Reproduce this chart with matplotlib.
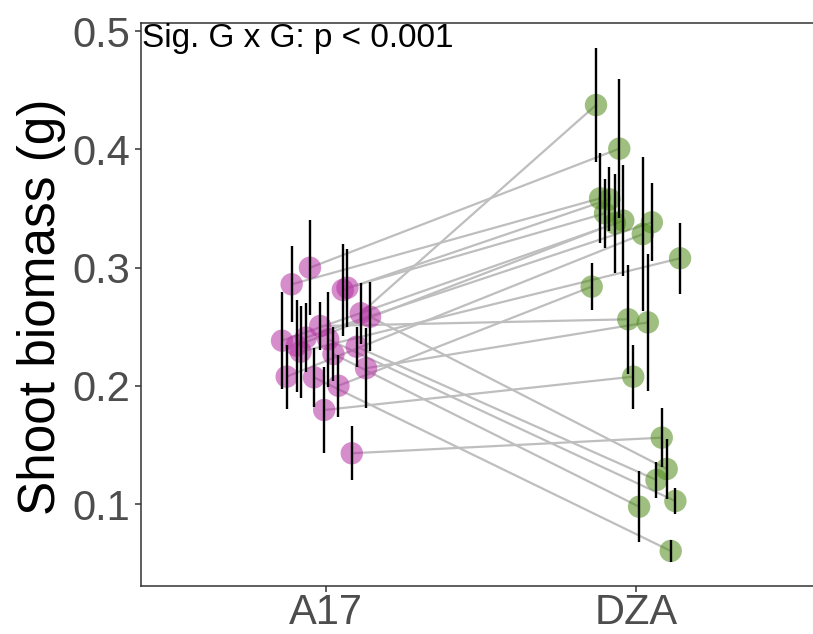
import matplotlib
matplotlib.use("Agg")
import matplotlib.pyplot as plt
import numpy as np

plt.rcParams['font.family'] = ['Liberation Sans', 'DejaVu Sans']

categories = ["A17", "DZA"]
# per genotype values (paired lines A17 -> DZA)
a17_mean = [0.2998, 0.2858, 0.2613, 0.2810, 0.2829, 0.2505, 0.2148, 0.1795, 0.1429, 0.2381,
            0.2407, 0.2339, 0.2288, 0.2077, 0.2000, 0.2584, 0.2330, 0.2393, 0.2268, 0.2071]
a17_se = [0.040, 0.032, 0.026, 0.039, 0.033, 0.020, 0.034, 0.036, 0.023, 0.041,
          0.029, 0.039, 0.039, 0.027, 0.026, 0.029, 0.017, 0.040, 0.023, 0.025]
a17_jit = [-0.052, -0.111, 0.112, 0.054, 0.069, -0.019, 0.129, -0.006, 0.083, -0.142,
           -0.065, -0.095, -0.082, -0.127, 0.040, 0.142, 0.099, 0.007, 0.024, -0.039]
dza_mean = [0.4005, 0.3585, 0.4374, 0.3577, 0.3458, 0.2562, 0.2536, 0.2077, 0.1561, 0.3396,
            0.3382, 0.3374, 0.3078, 0.3283, 0.2838, 0.1296, 0.1203, 0.1025, 0.0977, 0.0603]
dza_se = [0.059, 0.038, 0.048, 0.027, 0.029, 0.046, 0.058, 0.027, 0.025, 0.047,
          0.033, 0.042, 0.030, 0.065, 0.020, 0.025, 0.015, 0.011, 0.030, 0.009]
dza_jit = [-0.054, -0.116, -0.129, -0.086, -0.100, -0.025, 0.038, -0.009, 0.083, -0.041,
           0.051, -0.068, 0.142, 0.022, -0.143, 0.099, 0.066, 0.127, 0.010, 0.112]
yticks = [0.1, 0.2, 0.3, 0.4, 0.5]
annotation = "Sig. G x G: p < 0.001"
ylabel = "Shoot biomass (g)"

col_a17 = "#B52FA3"
col_dza = "#4E8C16"

W, H = 813, 634
fig = plt.figure(figsize=(W / 100, H / 100), dpi=100)
left, right, top, bottom = 141, 813, 23, 586
ax = fig.add_axes([left / W, (H - bottom) / H, (right - left) / W, (bottom - top) / H])

xa = 1 + np.array(a17_jit)
xd = 2 + np.array(dza_jit)
ya = np.array(a17_mean)
yd = np.array(dza_mean)

for i in range(len(ya)):
    ax.plot([xa[i], xd[i]], [ya[i], yd[i]], color="#BEBEBE", lw=1.6, zorder=1,
            solid_capstyle='butt')

ax.scatter(xa, ya, s=260, color=col_a17, alpha=0.55, edgecolors='none', zorder=2)
ax.scatter(xd, yd, s=260, color=col_dza, alpha=0.55, edgecolors='none', zorder=2)

ax.vlines(xa, ya - np.array(a17_se), ya + np.array(a17_se), color='black', lw=1.7, zorder=3)
ax.vlines(xd, yd - np.array(dza_se), yd + np.array(dza_se), color='black', lw=1.7, zorder=3)

ax.set_xlim(0.403, 2.571)
ax.set_ylim(0.03066, 0.50677)
ax.set_xticks([1, 2])
ax.set_xticklabels(categories)
ax.set_yticks(yticks)
ax.set_yticklabels([f"{v:.1f}" for v in yticks])

for s in ['left', 'bottom', 'top']:
    ax.spines[s].set_color('#333333')
    ax.spines[s].set_linewidth(1.1)
ax.spines['right'].set_visible(False)

ax.tick_params(axis='y', labelsize=30, colors='#333333', labelcolor='#4D4D4D',
               length=4, width=1.1, pad=4)
ax.tick_params(axis='x', labelsize=30, colors='#333333', labelcolor='#4D4D4D',
               length=4, width=1.1, pad=1)

ax.text(0.405, 0.4865, annotation, fontsize=24, color='black', ha='left', va='baseline',
        zorder=5)

fig.text(42 / W, 1 - 307 / H, ylabel, rotation=90, fontsize=37, ha='center', va='center',
         color='black')

fig.savefig("out.png", dpi=100)
